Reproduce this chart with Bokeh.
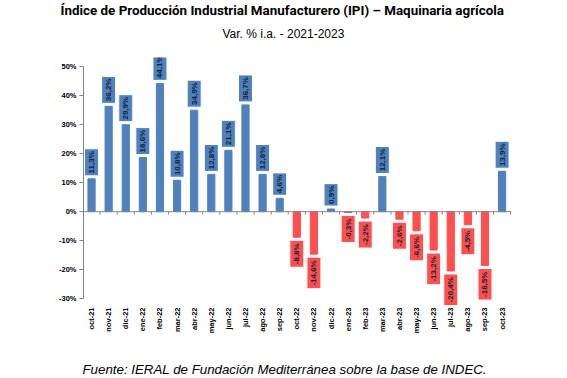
import math
from bokeh.plotting import figure
from bokeh.models import (ColumnDataSource, FixedTicker, LinearAxis, Title,
                          Range1d, CustomJSTickFormatter, Span)
from bokeh.core.properties import value
from bokeh.embed import file_html
from bokeh.resources import INLINE

months = ["oct-21", "nov-21", "dic-21", "ene-22", "feb-22", "mar-22", "abr-22",
          "may-22", "jun-22", "jul-22", "ago-22", "sep-22", "oct-22", "nov-22",
          "dic-22", "ene-23", "feb-23", "mar-23", "abr-23", "may-23", "jun-23",
          "jul-23", "ago-23", "sep-23", "oct-23"]
var_ia = [11.3, 36.2, 29.9, 18.6, 44.1, 10.8, 34.9, 12.8, 21.1, 36.7, 12.8, 4.6,
          -8.8, -14.6, 0.9, -0.3, -2.2, 12.1, -2.6, -6.6, -13.2, -20.4, -4.5,
          -18.5, 13.9]
y_ticks = [-30, -20, -10, 0, 10, 20, 30, 40, 50]

title_text = "Índice de Producción Industrial Manufacturero (IPI) – Maquinaria agrícola"
subtitle_text = "Var. % i.a. - 2021-2023"
source_text = "Fuente: IERAL de Fundación Mediterránea sobre la base de INDEC."

BLUE = "#4F81BD"
RED = "#FF5050"

AX_MIN, AX_MAX = y_ticks[0], y_ticks[-1]
Y_MIN, Y_MAX = -32.6, 53.0
FRAME_H = 249
px_per_unit = FRAME_H / (Y_MAX - Y_MIN)

n = len(months)
xs = list(range(n))
labels = [("%.1f" % v).replace(".", ",") + "%" for v in var_ia]
box_h = [len(s) * 4.6 + 4 for s in labels]
gap = 3
box_y = [v + (1 if v >= 0 else -1) * (gap + h / 2) / px_per_unit
         for v, h in zip(var_ia, box_h)]
src = ColumnDataSource(dict(
    x=xs, top=var_ia,
    color=[BLUE if v >= 0 else RED for v in var_ia],
    label=labels, box_h=box_h, box_y=box_y,
))

p = figure(width=567, height=378, output_backend="svg", toolbar_location=None,
           x_range=Range1d(-0.47, 24.55), y_range=Range1d(Y_MIN, Y_MAX),
           frame_width=428, frame_height=FRAME_H,
           min_border_left=83, min_border_right=56, min_border_top=57,
           min_border_bottom=72)
p.outline_line_color = None
p.grid.visible = False
p.xaxis.visible = False
p.yaxis.visible = False

# titles (first added is nearest the frame)
p.add_layout(Title(text=" ", text_font_size="1px", standoff=6), "above")
p.add_layout(Title(text=subtitle_text, align="left", offset=139,
                   text_font="Liberation Sans", text_font_style="normal",
                   text_font_size="12px", text_color="#000000", standoff=15),
             "above")
p.add_layout(Title(text=title_text, align="left", offset=-23,
                   text_font="Roboto", text_font_style="bold",
                   text_font_size="13.4px", text_color="#000000", standoff=0),
             "above")

# left axis
ya = LinearAxis(ticker=FixedTicker(ticks=y_ticks), bounds=(AX_MIN, AX_MAX),
                formatter=CustomJSTickFormatter(code="return tick.toFixed(0) + '%';"))
ya.axis_line_color = "#868686"
ya.major_tick_line_color = "#868686"
ya.major_tick_in = 0
ya.major_tick_out = 4
ya.minor_tick_line_color = None
ya.major_label_text_font = "Liberation Sans"
ya.major_label_text_font_style = "bold"
ya.major_label_text_font_size = "7.5px"
ya.major_label_text_color = "#000000"
ya.major_label_standoff = 3
p.add_layout(ya, "left")

# bottom axis with month labels
xa = LinearAxis(ticker=FixedTicker(ticks=xs),
                major_label_overrides={i: m for i, m in enumerate(months)})
xa.axis_line_color = None
xa.major_tick_line_color = None
xa.major_tick_in = 0
xa.major_tick_out = 0
xa.minor_tick_line_color = None
xa.major_label_orientation = math.pi / 2
xa.major_label_text_font = "Liberation Sans"
xa.major_label_text_font_style = "bold"
xa.major_label_text_font_size = "7.5px"
xa.major_label_text_color = "#000000"
xa.major_label_standoff = 1
p.add_layout(xa, "below")

p.add_layout(Title(text=" ", text_font_size="1px", standoff=20), "below")
p.add_layout(Title(text=source_text, align="left", offset=-1,
                   text_font="Liberation Sans", text_font_style="italic",
                   text_font_size="13.3px", text_color="#000000", standoff=0),
             "below")

# zero line with ticks between categories
p.add_layout(Span(location=0, dimension="width", line_color="#868686",
                  line_width=1))
tick_x = [i - 0.5 for i in range(n + 1)]
p.segment(x0=tick_x, x1=tick_x, y0=[0] * len(tick_x),
          y1=[-3 / px_per_unit] * len(tick_x), line_color="#868686", line_width=1)

p.vbar(x="x", top="top", bottom=0, width=0.42, color="color", source=src)

p.rect(x="x", y="box_y", width=14, height="box_h", width_units="screen",
       height_units="screen", fill_color="color", line_color="#FFFFFF",
       line_width=1, source=src)
p.text(x="x", y="box_y", text="label", source=src, angle=math.pi / 2,
       text_align="center", text_baseline="middle",
       text_font=value("Liberation Sans"), text_font_style="bold",
       text_font_size="8px", text_color="#14213D")

open("out.html", "w").write(file_html(p, INLINE))
